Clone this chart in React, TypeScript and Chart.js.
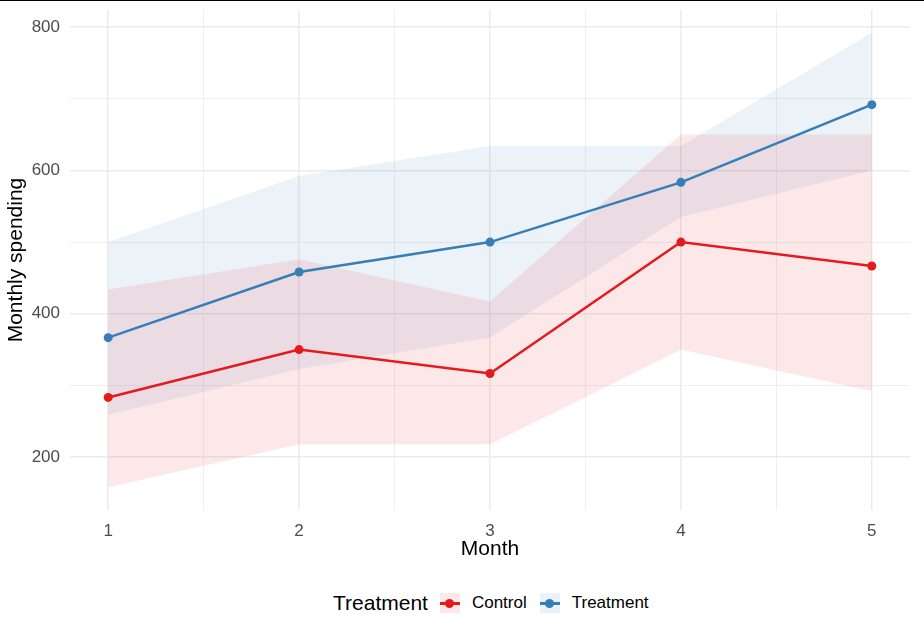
import React, { useEffect, useRef } from "react";
import { Chart, registerables } from "chart.js";
Chart.register(...registerables);

const months = [1, 2, 3, 4, 5];
const controlMean = [283.3, 350, 316.7, 500, 466.7];
const controlLower = [158, 218, 218, 350, 292];
const controlUpper = [434, 476, 417, 650, 650];
const treatmentMean = [366.7, 458.3, 500, 583.3, 691.7];
const treatmentLower = [259, 323, 367, 535, 600];
const treatmentUpper = [500, 592, 634, 634, 792];
const xMajor = [1, 2, 3, 4, 5];
const xMinor = [1.5, 2.5, 3.5, 4.5];
const yMajor = [200, 400, 600, 800];
const yMinor = [300, 500, 700];
const seriesNames = ["Control", "Treatment"];

const RED = "#E41A1C";
const BLUE = "#377EB8";
const RED_FILL = "rgba(228,26,28,0.1)";
const BLUE_FILL = "rgba(55,126,184,0.1)";
const FONT = "'Liberation Sans', Arial, sans-serif";

const pts = (ys: number[]) => months.map((m, i) => ({ x: m, y: ys[i] }));

export default function App() {
  const ref = useRef<HTMLCanvasElement>(null);
  useEffect(() => {
    if (!ref.current) return;
    const ribbon = (data: number[], fill: any, color: string) => ({
      data: pts(data),
      borderWidth: 0,
      pointRadius: 0,
      borderColor: "transparent",
      backgroundColor: color,
      fill,
      order: 10,
    });
    const line = (data: number[], color: string, label: string, order: number) => ({
      label,
      data: pts(data),
      borderColor: color,
      backgroundColor: color,
      borderWidth: 2.5,
      pointRadius: 4.5,
      pointBorderWidth: 0,
      pointBackgroundColor: color,
      fill: false,
      order,
    });
    const chart = new Chart(ref.current, {
      type: "line",
      data: {
        datasets: [
          ribbon(controlLower, false, "transparent"),
          ribbon(controlUpper, "-1", RED_FILL),
          ribbon(treatmentLower, false, "transparent"),
          ribbon(treatmentUpper, "-1", BLUE_FILL),
          line(controlMean, RED, seriesNames[0], 1),
          line(treatmentMean, BLUE, seriesNames[1], 0),
        ] as any,
      },
      options: {
        animation: false,
        responsive: false,
        devicePixelRatio: 1,
        layout: { padding: { top: 10, right: 14, left: 0, bottom: 0 } },
        plugins: {
          legend: { display: false },
          tooltip: { enabled: false },
          filler: { drawTime: "beforeDatasetsDraw" } as any,
        },
        scales: {
          x: {
            type: "linear",
            min: 0.8,
            max: 5.2,
            afterBuildTicks: (s: any) => {
              s.ticks = [...xMajor, ...xMinor].sort((a, b) => a - b).map((v) => ({ value: v }));
            },
            afterFit: (s: any) => {
              s.height = 60;
              s.paddingLeft = 0;
              s.paddingRight = 0;
            },
            border: { display: false },
            grid: {
              color: "#EBEBEB",
              drawTicks: false,
              lineWidth: (c: any) => (xMajor.includes(c.tick?.value) ? 1.5 : 0.8),
            },
            ticks: {
              autoSkip: false,
              maxRotation: 0,
              padding: 11,
              color: "#4D4D4D",
              font: { family: FONT, size: 17 },
              callback: (v: any) => (xMajor.includes(v) ? String(v) : ""),
            },
            title: {
              display: true,
              text: "Month",
              color: "#000",
              font: { family: FONT, size: 21 },
              padding: { top: 0, bottom: 8 },
            },
          },
          y: {
            type: "linear",
            min: 126.3,
            max: 823.7,
            afterBuildTicks: (s: any) => {
              s.ticks = [...yMajor, ...yMinor].sort((a, b) => a - b).map((v) => ({ value: v }));
            },
            afterFit: (s: any) => {
              s.width = 70;
              s.paddingTop = 0;
              s.paddingBottom = 0;
            },
            border: { display: false },
            grid: {
              color: "#EBEBEB",
              drawTicks: false,
              lineWidth: (c: any) => (yMajor.includes(c.tick?.value) ? 1.5 : 0.8),
            },
            ticks: {
              autoSkip: false,
              padding: 10,
              color: "#4D4D4D",
              font: { family: FONT, size: 17 },
              callback: (v: any) => (yMajor.includes(v) ? String(v) : ""),
            },
            title: {
              display: true,
              text: "Monthly spending",
              color: "#000",
              font: { family: FONT, size: 21 },
              padding: { top: 4, bottom: 0 },
            },
          },
        },
      },
    });
    return () => chart.destroy();
  }, []);

  const key = (color: string, fill: string) => (
    <div style={{ position: "relative", width: 20, height: 20, background: fill, flex: "0 0 20px" }}>
      <div style={{ position: "absolute", left: 0, right: 0, top: 9, height: 2.5, background: color }} />
      <div
        style={{
          position: "absolute",
          left: 5.5,
          top: 5.5,
          width: 9,
          height: 9,
          borderRadius: "50%",
          background: color,
        }}
      />
    </div>
  );

  return (
    <div
      style={{
        position: "fixed",
        left: 0,
        top: 0,
        width: 924,
        height: 636,
        background: "#fff",
        fontFamily: FONT,
        overflow: "hidden",
      }}
    >
      <div style={{ position: "absolute", left: 0, top: 0, width: 924, height: 1, background: "#000" }} />
      <canvas ref={ref} width={924} height={570} style={{ position: "absolute", left: 0, top: 0, width: 924, height: 570 }} />
      <div
        style={{
          position: "absolute",
          left: 333,
          top: 593,
          height: 20,
          display: "flex",
          alignItems: "center",
          whiteSpace: "nowrap",
        }}
      >
        <span style={{ fontSize: 21, color: "#000", marginRight: 12 }}>Treatment</span>
        {key(RED, RED_FILL)}
        <span style={{ fontSize: 17, color: "#000", marginLeft: 12, marginRight: 13 }}>{seriesNames[0]}</span>
        {key(BLUE, BLUE_FILL)}
        <span style={{ fontSize: 17, color: "#000", marginLeft: 12 }}>{seriesNames[1]}</span>
      </div>
    </div>
  );
}
